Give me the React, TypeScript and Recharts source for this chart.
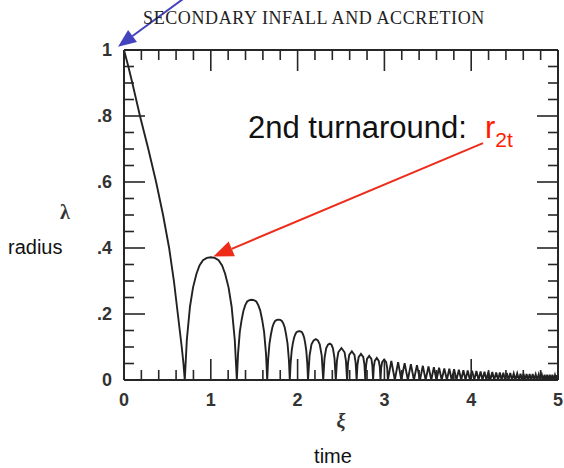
import { LineChart, Line, XAxis, YAxis, ReferenceLine } from 'recharts';

// first collapse from turnaround as [xi, lambda]
const firstInfall: [number, number][] = [
  [0, 1], [0.05, 0.95], [0.096, 0.9], [0.14, 0.85], [0.184, 0.8], [0.28, 0.7],
  [0.37, 0.6], [0.45, 0.5], [0.52, 0.4], [0.575, 0.3], [0.62, 0.2], [0.665, 0.1],
  [0.685, 0.05], [0.7, 0],
];

// bounces after the first collapse
const arches: [number, number][] = [
  [0.724, 0.122], [0.76, 0.222], [0.795, 0.28], [0.835, 0.322], [0.87, 0.347],
  [0.91, 0.363], [0.955, 0.37], [1.0, 0.372], [1.045, 0.37], [1.09, 0.363],
  [1.13, 0.347], [1.165, 0.322], [1.205, 0.28], [1.24, 0.222], [1.276, 0.122], [1.3, 0],
  [1.314, 0.08], [1.334, 0.146], [1.355, 0.182], [1.377, 0.211], [1.397, 0.227],
  [1.419, 0.238], [1.445, 0.242], [1.47, 0.243], [1.497, 0.242], [1.524, 0.238],
  [1.547, 0.227], [1.569, 0.211], [1.592, 0.182], [1.614, 0.146], [1.636, 0.08], [1.65, 0],
  [1.66, 0.06], [1.676, 0.11], [1.692, 0.137], [1.709, 0.159], [1.724, 0.171],
  [1.741, 0.179], [1.76, 0.182], [1.78, 0.183], [1.8, 0.182], [1.819, 0.179],
  [1.836, 0.171], [1.852, 0.159], [1.868, 0.137], [1.884, 0.11], [1.9, 0.06], [1.91, 0],
  [1.919, 0.049], [1.932, 0.089], [1.945, 0.111], [1.96, 0.129], [1.973, 0.138],
  [1.987, 0.145], [2.004, 0.147], [2.02, 0.148], [2.035, 0.147], [2.05, 0.145],
  [2.063, 0.138], [2.075, 0.129], [2.088, 0.111], [2.1, 0.089], [2.112, 0.049], [2.12, 0],
  [2.138, 0.074], [2.16, 0.108], [2.185, 0.12], [2.21, 0.124], [2.233, 0.12], [2.255, 0.108], [2.278, 0.074], [2.295, 0],
  [2.31, 0.066], [2.329, 0.096], [2.35, 0.107], [2.37, 0.11], [2.39, 0.107], [2.407, 0.096], [2.425, 0.066], [2.44, 0],
  [2.453, 0.058], [2.469, 0.084], [2.505, 0.097], [2.541, 0.084], [2.557, 0.058], [2.57, 0],
  [2.581, 0.052], [2.595, 0.076], [2.625, 0.087], [2.655, 0.076], [2.669, 0.052], [2.68, 0],
  [2.69, 0.047], [2.703, 0.069], [2.73, 0.079], [2.757, 0.069], [2.77, 0.047], [2.78, 0],
  [2.789, 0.044], [2.8, 0.064], [2.825, 0.073], [2.85, 0.064], [2.861, 0.044], [2.87, 0],
  [2.878, 0.04], [2.889, 0.058], [2.912, 0.067], [2.935, 0.058], [2.947, 0.04], [2.955, 0],
  [2.963, 0.037], [2.974, 0.054], [2.997, 0.062], [3.02, 0.054], [3.032, 0.037], [3.04, 0],
];

// dense tail, peak / zero pairs
const tail: [number, number][] = [
  [3.08, 0.058], [3.12, 0], [3.158, 0.054], [3.195, 0], [3.233, 0.051], [3.27, 0],
  [3.305, 0.048], [3.34, 0], [3.375, 0.045], [3.41, 0], [3.443, 0.043], [3.475, 0],
  [3.508, 0.041], [3.54, 0], [3.57, 0.039], [3.6, 0], [3.63, 0.037], [3.66, 0],
  [3.69, 0.035], [3.72, 0], [3.748, 0.034], [3.775, 0], [3.803, 0.033], [3.83, 0],
  [3.858, 0.031], [3.885, 0], [3.91, 0.03], [3.935, 0], [3.96, 0.029], [3.985, 0],
  [4.01, 0.028], [4.035, 0], [4.06, 0.027], [4.085, 0], [4.108, 0.026], [4.13, 0],
  [4.153, 0.025], [4.175, 0], [4.198, 0.025], [4.22, 0], [4.243, 0.024], [4.265, 0],
  [4.288, 0.023], [4.31, 0], [4.33, 0.023], [4.35, 0], [4.37, 0.022], [4.39, 0],
  [4.41, 0.021], [4.43, 0], [4.45, 0.021], [4.47, 0], [4.49, 0.02], [4.51, 0],
  [4.53, 0.02], [4.55, 0], [4.568, 0.019], [4.585, 0], [4.603, 0.019], [4.62, 0],
  [4.638, 0.018], [4.655, 0], [4.673, 0.018], [4.69, 0], [4.708, 0.018], [4.725, 0],
  [4.743, 0.017], [4.76, 0], [4.778, 0.017], [4.795, 0], [4.813, 0.017], [4.83, 0],
  [4.845, 0.016], [4.86, 0], [4.875, 0.016], [4.89, 0], [4.905, 0.016], [4.92, 0],
  [4.935, 0.016], [4.95, 0], [4.965, 0.015], [4.98, 0], [4.99, 0.015], [5.0, 0.005],
];

const xTicks = [
  0, 0.2, 0.4, 0.6, 0.8, 1, 1.2, 1.4, 1.6, 1.8, 2, 2.2, 2.4, 2.6, 2.8, 3,
  3.2, 3.4, 3.6, 3.8, 4, 4.2, 4.4, 4.6, 4.8, 5,
];
const xLabels = [0, 1, 2, 3, 4, 5];
const yTicks = [
  0, 0.05, 0.1, 0.15, 0.2, 0.25, 0.3, 0.35, 0.4, 0.45, 0.5, 0.55, 0.6, 0.65,
  0.7, 0.75, 0.8, 0.85, 0.9, 0.95, 1,
];
const yLabels = [0, 0.2, 0.4, 0.6, 0.8, 1];

// annotation arrows, in data units (tail -> head)
const blueArrow = [{ x: 0.76, y: 1.17 }, { x: -0.069, y: 1.01 }];
const redArrow = [{ x: 4.136, y: 0.718 }, { x: 1.029, y: 0.374 }];

const curve = [...firstInfall, ...arches, ...tail].map(([xi, lambda]) => ({ xi, lambda }));

const W = 564;
const H = 468;
const INK = '#262626';
const tickFont = {
  fontFamily: '"Liberation Sans", Arial, sans-serif',
  fontWeight: 700,
  fontSize: 18,
  fill: '#333',
};

const fmtY = (v: number) => (v === 0 || v === 1 ? String(v) : String(v).replace(/^0/, ''));

const BottomTick = ({ x, y, payload }: any) => {
  const major = xLabels.includes(payload.value);
  return (
    <g>
      <line x1={x} x2={x} y1={y} y2={y - (major ? 21 : 10)} stroke={INK} strokeWidth={1.6} />
      {major && (
        <text x={x} y={y + 26} textAnchor="middle" {...tickFont}>
          {payload.value}
        </text>
      )}
    </g>
  );
};

const TopTick = ({ x, y, payload }: any) => {
  const major = xLabels.includes(payload.value);
  return <line x1={x} x2={x} y1={y} y2={y + (major ? 21 : 10)} stroke={INK} strokeWidth={1.6} />;
};

const LeftTick = ({ x, y, payload }: any) => {
  const major = yLabels.includes(payload.value);
  return (
    <g>
      <line x1={x} x2={x + (major ? 21 : 10)} y1={y} y2={y} stroke={INK} strokeWidth={1.6} />
      {major && (
        <text x={x - 12} y={y + 6} textAnchor="end" {...tickFont}>
          {fmtY(payload.value)}
        </text>
      )}
    </g>
  );
};

const RightTick = ({ x, y, payload }: any) => {
  const major = yLabels.includes(payload.value);
  return <line x1={x} x2={x - (major ? 21 : 10)} y1={y} y2={y} stroke={INK} strokeWidth={1.6} />;
};

const arrowShape = (color: string, head: number, half: number) => (p: any) => {
  const { x1, y1, x2, y2 } = p;
  const dx = x2 - x1;
  const dy = y2 - y1;
  const len = Math.hypot(dx, dy) || 1;
  const ux = dx / len;
  const uy = dy / len;
  const bx = x2 - ux * head;
  const by = y2 - uy * head;
  return (
    <g>
      <line x1={x1} y1={y1} x2={bx} y2={by} stroke={color} strokeWidth={2} />
      <polygon
        points={`${x2},${y2} ${bx - uy * half},${by + ux * half} ${bx + uy * half},${by - ux * half}`}
        fill={color}
      />
    </g>
  );
};

const App = () => {
  return (
    <div style={{ position: 'absolute', left: 0, top: 0, width: W, height: H, background: '#fff' }}>
      <LineChart
        width={W}
        height={H}
        data={curve}
        margin={{ top: 40, right: 0, bottom: 48, left: 64 }}
      >
        <XAxis
          xAxisId="b"
          dataKey="xi"
          type="number"
          domain={[0, 5]}
          ticks={xTicks}
          interval={0}
          height={40}
          tickSize={0}
          tickMargin={0}
          tickLine={false}
          axisLine={{ stroke: INK, strokeWidth: 2 }}
          tick={(props: any) => <BottomTick {...props} />}
          allowDataOverflow
        />
        <XAxis
          xAxisId="t"
          orientation="top"
          dataKey="xi"
          type="number"
          domain={[0, 5]}
          ticks={xTicks}
          interval={0}
          height={10}
          tickSize={0}
          tickMargin={0}
          tickLine={false}
          axisLine={{ stroke: INK, strokeWidth: 2 }}
          tick={(props: any) => <TopTick {...props} />}
          allowDataOverflow
        />
        <YAxis
          yAxisId="l"
          type="number"
          domain={[0, 1]}
          ticks={yTicks}
          interval={0}
          width={60}
          tickSize={0}
          tickMargin={0}
          tickLine={false}
          axisLine={{ stroke: INK, strokeWidth: 2 }}
          tick={(props: any) => <LeftTick {...props} />}
          allowDataOverflow
        />
        <YAxis
          yAxisId="r"
          orientation="right"
          type="number"
          domain={[0, 1]}
          ticks={yTicks}
          interval={0}
          width={6}
          tickSize={0}
          tickMargin={0}
          tickLine={false}
          axisLine={{ stroke: INK, strokeWidth: 2 }}
          tick={(props: any) => <RightTick {...props} />}
          allowDataOverflow
        />
        <Line
          xAxisId="b"
          yAxisId="l"
          type="linear"
          dataKey="lambda"
          stroke="#222"
          strokeWidth={1.9}
          dot={false}
          isAnimationActive={false}
        />
        <ReferenceLine
          xAxisId="b"
          yAxisId="l"
          segment={blueArrow}
          ifOverflow="visible"
          shape={arrowShape('#4343bd', 18, 7.5)}
        />
        <ReferenceLine
          xAxisId="b"
          yAxisId="l"
          segment={redArrow}
          ifOverflow="visible"
          shape={arrowShape('#ee2c1a', 20, 8)}
        />
      </LineChart>
      <svg
        width={W}
        height={H}
        style={{ position: 'absolute', left: 0, top: 0, pointerEvents: 'none' }}
      >
        <text
          x={314}
          y={23.5}
          textAnchor="middle"
          fontFamily='"Liberation Serif", "Times New Roman", serif'
          fontSize={18}
          letterSpacing={0.6}
          fill="#222"
        >
          SECONDARY INFALL AND ACCRETION
        </text>
        <text x={248} y={138} fontFamily='"Liberation Sans", Arial, sans-serif' fontSize={31} fill="#111">
          2nd turnaround:{' '}
          <tspan x={485} fill="#ff1a00">r</tspan>
          <tspan fill="#ff1a00" fontSize={21} dy={8.5}>2t</tspan>
        </text>
        <text
          x={65}
          y={219}
          textAnchor="middle"
          fontFamily='"Liberation Serif", "Times New Roman", serif'
          fontWeight={700}
          fontSize={20}
          fill="#333"
        >
          λ
        </text>
        <text x={8} y={254} fontFamily='"Liberation Sans", Arial, sans-serif' fontSize={20} fill="#111">
          radius
        </text>
        <text
          x={341}
          y={428}
          textAnchor="middle"
          fontFamily='"Liberation Serif", "Times New Roman", serif'
          fontStyle="italic"
          fontWeight={700}
          fontSize={20}
          fill="#333"
        >
          ξ
        </text>
        <text
          x={333}
          y={463}
          textAnchor="middle"
          fontFamily='"Liberation Sans", Arial, sans-serif'
          fontSize={20}
          fill="#111"
        >
          time
        </text>
      </svg>
    </div>
  );
};

export default App;
